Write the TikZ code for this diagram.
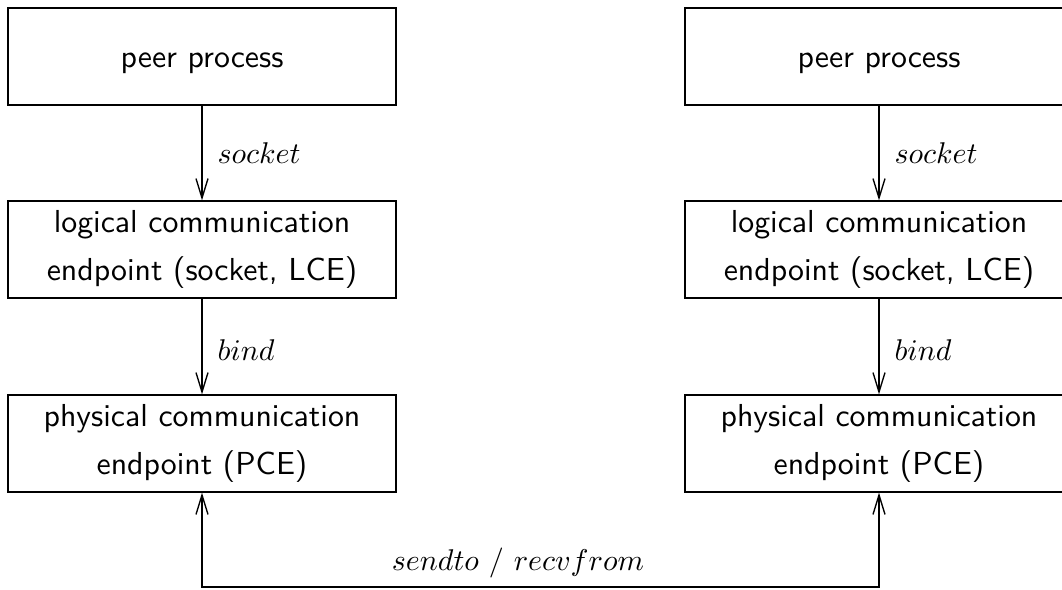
\documentclass[tikz,border=0pt]{standalone}
\usetikzlibrary{arrows.meta}
\begin{document}
\begin{tikzpicture}[x=0.3333pt,y=-0.3333pt,
  box/.style={draw,line width=0.45pt,minimum width=129.3pt,minimum height=32.3pt,inner sep=0pt,align=center,font=\sffamily\fontsize{10.6pt}{12.5pt}\selectfont},
  peerbox/.style={box,text height=7.5pt,text depth=0.5pt},
  lbl/.style={anchor=west,inner sep=0pt},
  conn/.style={line width=0.45pt,-{Straight Barb[length=6.5pt,width=4pt]}}]
\useasboundingbox (0,0) rectangle (1062,589);
\clip (0,0) rectangle (1062,589);
\node[peerbox] (lpeer) at (202,56.5) {peer process};
\node[box] (llog) at (202,249.5) {logical communication\\[3.5pt]endpoint (socket, LCE)};
\node[box] (lphy) at (202,443.5) {physical communication\\[3.5pt]endpoint (PCE)};
\node[peerbox] (rpeer) at (879,56.5) {peer process};
\node[box] (rlog) at (879,249.5) {logical communication\\[3.5pt]endpoint (socket, LCE)};
\node[box] (rphy) at (879,443.5) {physical communication\\[3.5pt]endpoint (PCE)};
\draw[conn] (lpeer) -- (llog);
\draw[conn] (llog) -- (lphy);
\draw[conn] (rpeer) -- (rlog);
\draw[conn] (rlog) -- (rphy);
\node[lbl] (lsock) at (217,153) {$socket$};
\node[lbl] (lbind) at (217,350) {$bind$};
\node[lbl] (rsock) at (894,153) {$socket$};
\node[lbl] (rbind) at (894,350) {$bind$};
\coordinate (bl) at (202,587);
\coordinate (br) at (879,587);
\draw[line width=0.45pt,{Straight Barb[length=6.5pt,width=4pt]}-{Straight Barb[length=6.5pt,width=4pt]}] (lphy.south) -- (bl) -- (br) -- (rphy.south);
\node[anchor=south,inner sep=0pt] (send) at (518,579) {$sendto\ /\ recvfrom$};
\end{tikzpicture}
\end{document}
